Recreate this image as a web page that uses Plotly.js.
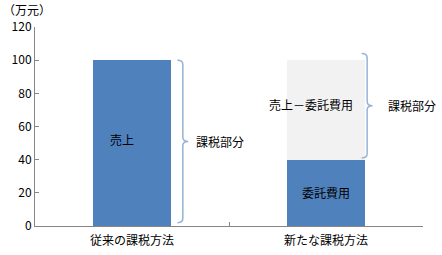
<!DOCTYPE html>
<html><head><meta charset="utf-8">
<script src="https://cdn.plot.ly/plotly-3.0.1.min.js"></script>
<style>html,body{margin:0;padding:0;background:#fff}#c{width:442px;height:255px}</style>
</head><body><div id="c"></div>
<script>
const categories = ["従来の課税方法", "新たな課税方法"];
const baseValues = [100, 40];      // 売上 / 委託費用
const upperValues = [0, 60];       // 売上－委託費用
const baseLabels = ["売上", "委託費用"];
const upperLabels = ["", "売上－委託費用"];
const braceLabel = "課税部分";
const yTicks = [0, 20, 40, 60, 80, 100, 120];

const FONT = "'Noto Sans CJK JP', 'Noto Sans', sans-serif";
const blue = "#4f81bd", light = "#f2f2f2", braceColor = "#95b3d7", axisGray = "#868686";

const traces = [
  {type: "bar", x: categories, y: baseValues, marker: {color: blue}, hoverinfo: "none"},
  {type: "bar", x: categories, y: upperValues, marker: {color: light}, hoverinfo: "none"}
];

// brace geometry (paper x, data y)
const braces = [
  {x: 0.381, y0: 2, y1: 100},
  {x: 0.856, y0: 41, y1: 104}
];
const h = 0.014, r = 2.5;
function bracePath(b) {
  const x = b.x, y0 = b.y0, y1 = b.y1, ym = (y0 + y1) / 2;
  return `M ${x - h} ${y1} Q ${x} ${y1} ${x} ${y1 - r} L ${x} ${ym + r} Q ${x} ${ym} ${x + h} ${ym} ` +
         `Q ${x} ${ym} ${x} ${ym - r} L ${x} ${y0 + r} Q ${x} ${y0} ${x - h} ${y0}`;
}
const shapes = braces.map(b => ({type: "path", xref: "paper", yref: "y", path: bracePath(b),
  line: {color: braceColor, width: 1.5}}));

const annotations = [
  {xref: "x", yref: "y", x: categories[0], y: 52, text: baseLabels[0], showarrow: false, xshift: -10},
  {xref: "x", yref: "y", x: categories[1], y: 20, text: baseLabels[1], showarrow: false},
  {xref: "x", yref: "y", x: categories[1], y: 73.5, text: upperLabels[1], showarrow: false, xshift: -15},
  {xref: "paper", yref: "y", x: braces[0].x + 0.03, y: (braces[0].y0 + braces[0].y1) / 2, text: braceLabel, showarrow: false, xanchor: "left"},
  {xref: "paper", yref: "y", x: braces[1].x + 0.048, y: (braces[1].y0 + braces[1].y1) / 2, text: braceLabel, showarrow: false, xanchor: "left"},
  {xref: "paper", yref: "paper", x: -0.088, y: 1.09, text: "（万元）", showarrow: false, xanchor: "left", yanchor: "middle"}
];

const layout = {
  width: 442, height: 255,
  margin: {l: 35, r: 19, t: 27, b: 29},
  paper_bgcolor: "#fff", plot_bgcolor: "#fff",
  font: {family: FONT, size: 12, color: "#000"},
  barmode: "stack", bargap: 0.6, showlegend: false,
  xaxis: {showline: true, linecolor: axisGray, linewidth: 1, ticks: "inside", tickson: "boundaries",
          ticklen: 4, tickcolor: axisGray, showgrid: false, zeroline: false, fixedrange: true,
          ticklabelstandoff: 4},
  yaxis: {range: [0, 120], tickvals: yTicks, showline: true, linecolor: axisGray, linewidth: 1,
          ticks: "inside", ticklen: 4, tickcolor: axisGray, showgrid: false, zeroline: false, fixedrange: true},
  shapes: shapes, annotations: annotations
};
Plotly.newPlot("c", traces, layout, {staticPlot: true});
</script></body></html>
